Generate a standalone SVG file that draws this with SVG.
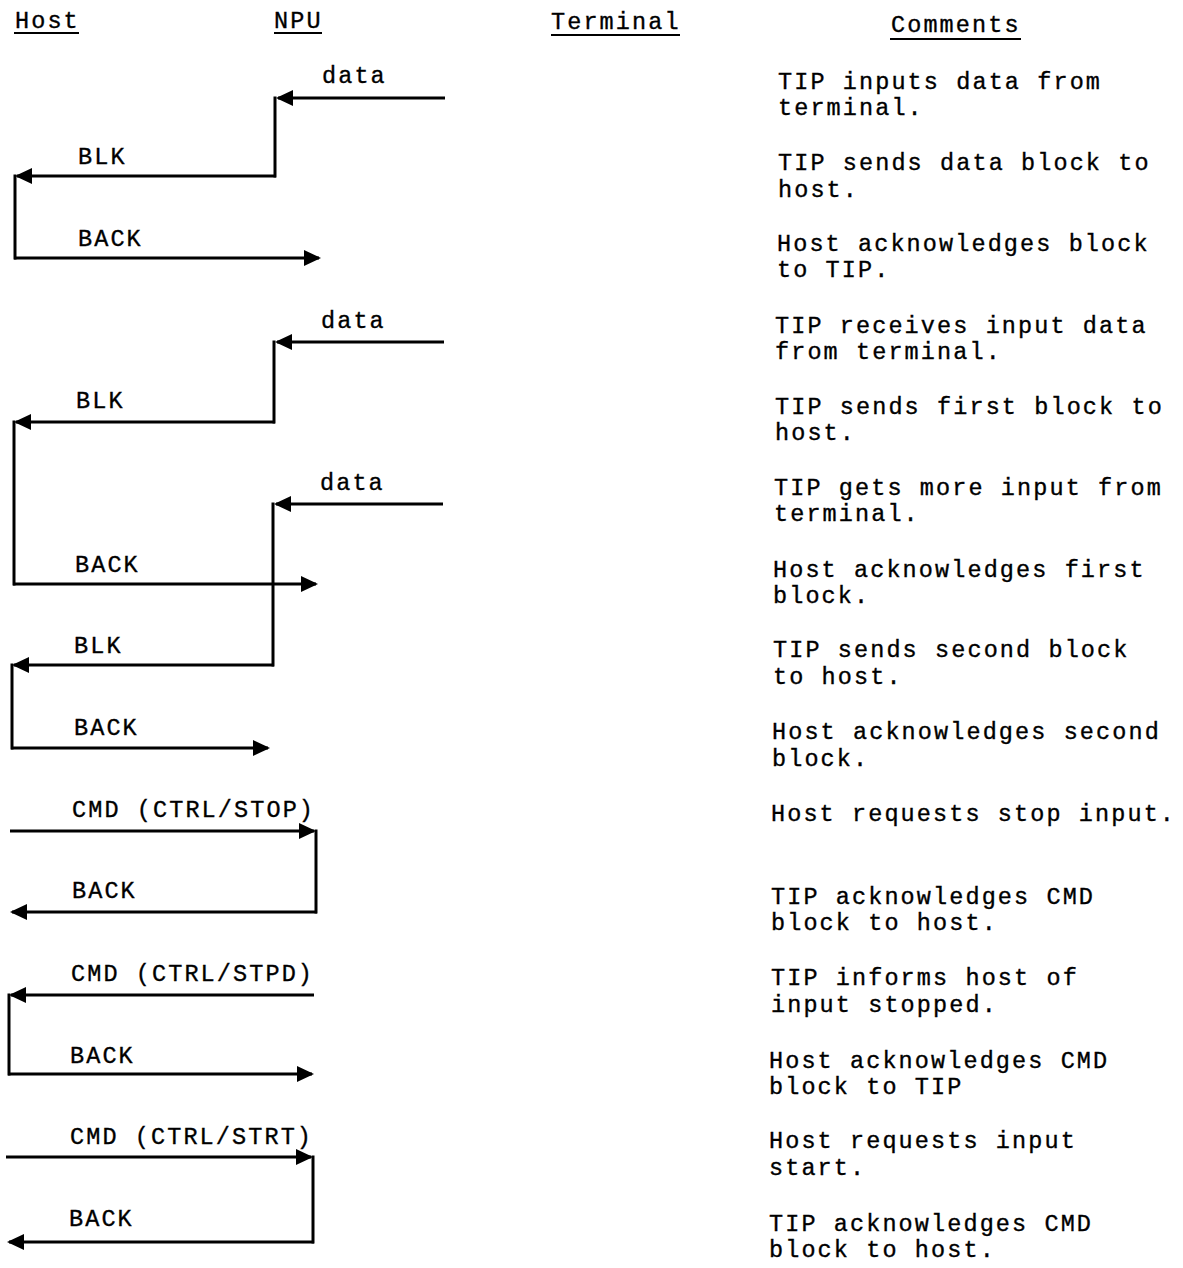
<svg xmlns="http://www.w3.org/2000/svg" width="1183" height="1268" viewBox="0 0 1183 1268">
<style>
text{font-family:"Liberation Mono","DejaVu Sans Mono",monospace;font-size:23.5px;letter-spacing:2.1px;fill:#000;stroke:#000;stroke-width:0.35}
.ln{stroke:#000;stroke-width:3;fill:none}
.ar{stroke:#000;stroke-width:3;fill:none;marker-end:url(#ah)}
.ul{stroke:#000;stroke-width:2}
</style>
<defs>
<marker id="ah" markerUnits="userSpaceOnUse" markerWidth="18" markerHeight="16" viewBox="0 0 18 16" refX="15" refY="8" orient="auto">
<path d="M0,0 L17,8 L0,16 z" fill="#000"/>
</marker>
</defs>
<rect width="1183" height="1268" fill="#fff"/>
<g id="host"><text x="15" y="28">Host</text><line class="ul" x1="14" y1="33" x2="79" y2="33"/></g>
<g id="npu"><text x="274" y="28">NPU</text><line class="ul" x1="274" y1="33" x2="322" y2="33"/></g>
<g id="terminal"><text x="551" y="29">Terminal</text><line class="ul" x1="551" y1="35" x2="680" y2="35"/></g>
<g id="comments"><text x="891" y="32">Comments</text><line class="ul" x1="890" y1="39" x2="1021" y2="39"/></g>
<g id="connectors">
<line class="ar" x1="445" y1="98" x2="278" y2="98"/>
<line class="ln" x1="275" y1="96.5" x2="275" y2="177.5"/>
<line class="ar" x1="276" y1="176" x2="17" y2="176"/>
<line class="ln" x1="15" y1="174.5" x2="15" y2="259.5"/>
<line class="ar" x1="14" y1="258" x2="319" y2="258"/>
<line class="ar" x1="444" y1="342" x2="277" y2="342"/>
<line class="ln" x1="274" y1="340.5" x2="274" y2="423.5"/>
<line class="ar" x1="275" y1="422" x2="16" y2="422"/>
<line class="ln" x1="14" y1="420.5" x2="14" y2="585.5"/>
<line class="ar" x1="443" y1="504" x2="276" y2="504"/>
<line class="ln" x1="273" y1="502.5" x2="273" y2="666.5"/>
<line class="ar" x1="13" y1="584" x2="316" y2="584"/>
<line class="ar" x1="274" y1="665" x2="14" y2="665"/>
<line class="ln" x1="12" y1="663.5" x2="12" y2="749.5"/>
<line class="ar" x1="11" y1="748" x2="268" y2="748"/>
<line class="ar" x1="10" y1="831" x2="314" y2="831"/>
<line class="ln" x1="316" y1="829.5" x2="316" y2="913.5"/>
<line class="ar" x1="317" y1="912" x2="12" y2="912"/>
<line class="ar" x1="314" y1="995" x2="11" y2="995"/>
<line class="ln" x1="9" y1="993.5" x2="9" y2="1075.5"/>
<line class="ar" x1="8" y1="1074" x2="312" y2="1074"/>
<line class="ar" x1="6" y1="1157" x2="311" y2="1157"/>
<line class="ln" x1="313" y1="1155.5" x2="313" y2="1243.5"/>
<line class="ar" x1="314" y1="1242" x2="9" y2="1242"/>
</g>
<g id="labels">
<text x="322" y="83">data</text>
<text x="78" y="164">BLK</text>
<text x="78" y="246">BACK</text>
<text x="321" y="328">data</text>
<text x="76" y="408">BLK</text>
<text x="320" y="490">data</text>
<text x="75" y="572">BACK</text>
<text x="74" y="653">BLK</text>
<text x="74" y="735">BACK</text>
<text x="72" y="817">CMD (CTRL/STOP)</text>
<text x="72" y="898">BACK</text>
<text x="71" y="981">CMD (CTRL/STPD)</text>
<text x="70" y="1063">BACK</text>
<text x="70" y="1144">CMD (CTRL/STRT)</text>
<text x="69" y="1226">BACK</text>
</g>
<g id="comment-text">
<text x="778" y="89">TIP inputs data from</text>
<text x="778" y="115">terminal.</text>
<text x="778" y="170">TIP sends data block to</text>
<text x="778" y="197">host.</text>
<text x="777" y="251">Host acknowledges block</text>
<text x="777" y="277">to TIP.</text>
<text x="775" y="333">TIP receives input data</text>
<text x="775" y="359">from terminal.</text>
<text x="775" y="414">TIP sends first block to</text>
<text x="775" y="440">host.</text>
<text x="774" y="495">TIP gets more input from</text>
<text x="774" y="521">terminal.</text>
<text x="773" y="577">Host acknowledges first</text>
<text x="773" y="603">block.</text>
<text x="773" y="657">TIP sends second block</text>
<text x="773" y="684">to host.</text>
<text x="772" y="739">Host acknowledges second</text>
<text x="772" y="766">block.</text>
<text x="771" y="821">Host requests stop input.</text>
<text x="771" y="904">TIP acknowledges CMD</text>
<text x="771" y="930">block to host.</text>
<text x="771" y="985">TIP informs host of</text>
<text x="771" y="1012">input stopped.</text>
<text x="769" y="1068">Host acknowledges CMD</text>
<text x="769" y="1094">block to TIP</text>
<text x="769" y="1148">Host requests input</text>
<text x="769" y="1175">start.</text>
<text x="769" y="1231">TIP acknowledges CMD</text>
<text x="769" y="1257">block to host.</text>
</g>
</svg>
